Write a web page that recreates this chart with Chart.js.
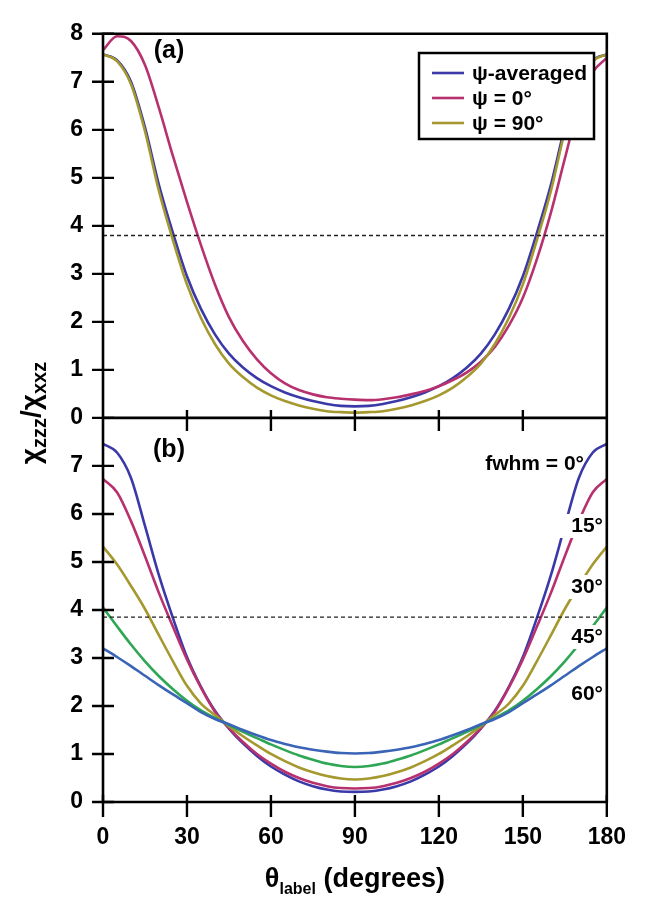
<!DOCTYPE html>
<html>
<head>
<meta charset="utf-8">
<script src="https://cdn.jsdelivr.net/npm/chart.js@4.4.0/dist/chart.umd.min.js"></script>
<style>
  html, body { margin: 0; padding: 0; background: #fff; }
</style>
</head>
<body>
<canvas id="chart" width="648" height="899"></canvas>
<script>
// theta_label, degrees (0 to 180 every 5)
const theta = [0,5,10,15,20,25,30,35,40,45,50,55,60,65,70,75,80,85,90,
               95,100,105,110,115,120,125,130,135,140,145,150,155,160,165,170,175,180];

// panel (a)
const psiAvg = [7.57,7.45,7.0,6.05,4.85,3.85,2.95,2.27,1.74,1.34,1.05,0.83,0.66,0.53,0.43,0.35,0.29,0.25,0.24,
                0.25,0.29,0.35,0.43,0.53,0.66,0.83,1.05,1.34,1.74,2.27,2.95,3.85,4.85,6.05,7.0,7.45,7.57];
const psi0   = [7.66,7.95,7.85,7.35,6.45,5.45,4.5,3.6,2.78,2.1,1.6,1.22,0.93,0.72,0.58,0.49,0.43,0.4,0.38,
                0.37,0.39,0.43,0.49,0.56,0.66,0.79,0.95,1.17,1.48,1.92,2.5,3.3,4.27,5.4,6.5,7.2,7.5];
const psi90  = [7.57,7.43,6.95,5.97,4.72,3.7,2.78,2.08,1.54,1.13,0.85,0.63,0.47,0.35,0.26,0.19,0.14,0.12,0.11,
                0.12,0.14,0.19,0.26,0.35,0.47,0.63,0.85,1.13,1.54,2.08,2.78,3.7,4.72,5.97,6.95,7.43,7.57];
const dashA = 3.8;

// panel (b)
const fwhm0  = [7.46,7.28,6.75,5.75,4.72,3.83,3.02,2.4,1.9,1.53,1.22,0.96,0.74,0.57,0.43,0.33,0.26,0.22,0.21,
                0.22,0.26,0.33,0.43,0.57,0.74,0.96,1.22,1.53,1.9,2.4,3.02,3.83,4.72,5.75,6.75,7.28,7.46];
const fwhm15 = [6.73,6.45,5.85,5.12,4.35,3.65,2.97,2.38,1.88,1.54,1.25,1.0,0.8,0.63,0.5,0.4,0.33,0.29,0.28,
                0.29,0.33,0.4,0.5,0.63,0.8,1.0,1.25,1.54,1.88,2.38,2.97,3.65,4.35,5.12,5.85,6.45,6.73];
const fwhm30 = [5.32,4.95,4.5,4.02,3.47,2.93,2.42,2.05,1.81,1.58,1.37,1.18,1.0,0.85,0.72,0.62,0.54,0.49,0.47,
                0.49,0.54,0.62,0.72,0.85,1.0,1.18,1.37,1.58,1.81,2.05,2.42,2.93,3.47,4.02,4.5,4.95,5.32];
const fwhm45 = [4.05,3.66,3.28,2.93,2.62,2.35,2.11,1.91,1.75,1.6,1.46,1.33,1.2,1.08,0.97,0.88,0.8,0.75,0.73,
                0.75,0.8,0.88,0.97,1.08,1.2,1.33,1.46,1.6,1.75,1.91,2.11,2.35,2.62,2.93,3.28,3.66,4.05];
const fwhm60 = [3.2,3.02,2.83,2.63,2.43,2.24,2.06,1.87,1.73,1.62,1.5,1.39,1.29,1.21,1.14,1.09,1.05,1.02,1.01,
                1.02,1.05,1.09,1.14,1.21,1.29,1.39,1.5,1.62,1.73,1.87,2.06,2.24,2.43,2.63,2.83,3.02,3.2];
const dashB = 3.85;

const xTicks = [0,30,60,90,120,150,180];
const fwhmLabels = ['fwhm = 0°','15°','30°','45°','60°'];

const BLUE = '#3b39a8', MAG = '#b8316f', OLIVE = '#a5982f', GREEN = '#2ea653', BLUE60 = '#3a64b6';
const FONT = 'Liberation Sans';

const pts = ys => theta.map((t, i) => ({x: t, y: ys[i]}));
const line = (label, ys, color, axis) => ({
  label, data: pts(ys), yAxisID: axis, borderColor: color, borderWidth: 2.6,
  pointRadius: 0, cubicInterpolationMode: 'monotone', fill: false
});
const dash = (v, axis) => ({
  label: 'half', data: [{x: 0, y: v}, {x: 180, y: v}], yAxisID: axis,
  borderColor: '#222', borderWidth: 1.4, borderDash: [4, 3], pointRadius: 0
});

// legend box of panel (a)
const legendPlugin = {
  id: 'legendA',
  afterDraw(chart) {
    const ctx = chart.ctx;
    const items = chart.data.datasets.filter(d => d.inLegend).sort((a, b) => a.inLegend - b.inLegend);
    const L = 419, T = 53, W = 175, H = 86;
    ctx.save();
    ctx.fillStyle = '#fff';
    ctx.fillRect(L, T, W, H);
    ctx.strokeStyle = '#000'; ctx.lineWidth = 2.5;
    ctx.strokeRect(L, T, W, H);
    ctx.font = 'bold 21px "' + FONT + '"';
    ctx.textBaseline = 'middle';
    items.forEach((d, i) => {
      const y = 73 + i * 25;
      ctx.strokeStyle = d.borderColor; ctx.lineWidth = 2.6;
      ctx.beginPath(); ctx.moveTo(L + 13, y); ctx.lineTo(L + 45, y); ctx.stroke();
      ctx.fillStyle = '#000';
      ctx.fillText(d.label, L + 53, y + 1);
    });
    ctx.restore();
  }
};

// labels, frame, ticks, titles
const framePlugin = {
  id: 'frame',
  afterDatasetsDraw(chart) {
    const ctx = chart.ctx, a = chart.chartArea;
    const x = chart.scales.x, yA = chart.scales.yA, yB = chart.scales.yB;
    const mid = yA.getPixelForValue(0);
    ctx.save();

    // fwhm labels with white backing
    ctx.font = 'bold 21px "' + FONT + '"';
    ctx.textBaseline = 'middle';
    ctx.textAlign = 'right';
    const lab = [[584, 463], [603, 525], [603, 586], [603, 636], [603, 693]];
    fwhmLabels.forEach((t, i) => {
      const w = ctx.measureText(t).width;
      const [rx, cy] = lab[i];
      if (i > 0) {
        ctx.fillStyle = '#fff';
        ctx.fillRect(rx - w - 12, cy - 11, w + 13, 24);
      }
      ctx.fillStyle = '#000';
      ctx.fillText(t, rx, cy + 1);
    });

    // panel letters
    ctx.textAlign = 'center';
    ctx.font = 'bold 25px "' + FONT + '"';
    ctx.fillText('(a)', 169, 51);
    ctx.fillText('(b)', 169, 450);

    // frame
    ctx.strokeStyle = '#000'; ctx.lineWidth = 2.6; ctx.lineCap = 'square';
    ctx.beginPath();
    ctx.moveTo(a.left, a.top); ctx.lineTo(a.right, a.top); ctx.lineTo(a.right, a.bottom);
    ctx.lineTo(a.left, a.bottom); ctx.closePath();
    ctx.moveTo(a.left, mid); ctx.lineTo(a.right, mid);
    ctx.stroke();

    // crossing tick marks
    ctx.lineCap = 'butt'; ctx.lineWidth = 2.4;
    ctx.beginPath();
    yA.ticks.forEach(t => { const p = yA.getPixelForValue(t.value); ctx.moveTo(a.left - 11, p); ctx.lineTo(a.left + 11, p); });
    yB.ticks.forEach(t => { if (t.value < 8) { const p = yB.getPixelForValue(t.value); ctx.moveTo(a.left - 11, p); ctx.lineTo(a.left + 11, p); } });
    xTicks.forEach(v => {
      const p = x.getPixelForValue(v);
      ctx.moveTo(p, a.bottom - 7); ctx.lineTo(p, a.bottom + 15);
      if (v > 0 && v < 180) { ctx.moveTo(p, mid - 8); ctx.lineTo(p, mid + 13); }
    });
    ctx.stroke();

    // y title
    ctx.fillStyle = '#000';
    ctx.translate(40, 413); ctx.rotate(-Math.PI / 2);
    const parts = [['χ', 28, 0], ['zzz', 20, 6], ['/χ', 28, 0], ['xxz', 20, 6]];
    let tot = 0;
    parts.forEach(p => { ctx.font = 'bold ' + p[1] + 'px "' + FONT + '"'; tot += ctx.measureText(p[0]).width; });
    let px = -tot / 2;
    ctx.textAlign = 'left'; ctx.textBaseline = 'alphabetic';
    parts.forEach(p => { ctx.font = 'bold ' + p[1] + 'px "' + FONT + '"'; ctx.fillText(p[0], px, p[2]); px += ctx.measureText(p[0]).width; });
    ctx.setTransform(1, 0, 0, 1, 0, 0);

    // x title
    const xp = [['θ', 27, 0], ['label', 16, 7], [' (degrees)', 27, 0]];
    tot = 0;
    xp.forEach(p => { ctx.font = 'bold ' + p[1] + 'px "' + FONT + '"'; tot += ctx.measureText(p[0]).width; });
    px = (a.left + a.right) / 2 - tot / 2;
    xp.forEach(p => { ctx.font = 'bold ' + p[1] + 'px "' + FONT + '"'; ctx.fillText(p[0], px, 887 + p[2]); px += ctx.measureText(p[0]).width; });
    ctx.restore();
  }
};

const tickFont = {family: FONT, weight: 'bold', size: 23};
const yScale = (hideTop) => ({
  type: 'linear', position: 'left', stack: 'panels', stackWeight: 1, min: 0, max: 8,
  grid: {display: false, drawTicks: false}, border: {display: false},
  ticks: {stepSize: 1, autoSkip: false, padding: 20, color: '#000', font: tickFont,
          callback: v => (hideTop && v === 8) ? '' : v},
  afterFit(s) { s.width = 103; }
});

const dsA = [line('ψ = 90°', psi90, OLIVE, 'yA'), line('ψ = 0°', psi0, MAG, 'yA'), line('ψ-averaged', psiAvg, BLUE, 'yA')];
dsA[2].inLegend = 1; dsA[1].inLegend = 2; dsA[0].inLegend = 3;

new Chart(document.getElementById('chart'), {
  type: 'line',
  data: {
    datasets: [
      dash(dashA, 'yA'), ...dsA,
      dash(dashB, 'yB'),
      line('fwhm 60', fwhm60, BLUE60, 'yB'),
      line('fwhm 45', fwhm45, GREEN, 'yB'),
      line('fwhm 30', fwhm30, OLIVE, 'yB'),
      line('fwhm 15', fwhm15, MAG, 'yB'),
      line('fwhm 0', fwhm0, BLUE, 'yB')
    ]
  },
  options: {
    responsive: false,
    animation: false,
    layout: {padding: {top: 25, right: 26, left: 0, bottom: 0}},
    plugins: {legend: {display: false}, tooltip: {enabled: false}},
    scales: {
      x: {
        type: 'linear', min: 0, max: 180,
        grid: {display: false, drawTicks: false}, border: {display: false},
        ticks: {stepSize: 30, autoSkip: false, padding: 22, color: '#000', font: tickFont, maxRotation: 0},
        afterFit(s) { s.height = 97; }
      },
      yB: yScale(true),
      yA: yScale(false)
    }
  },
  plugins: [framePlugin, legendPlugin]
});
</script>
</body>
</html>
